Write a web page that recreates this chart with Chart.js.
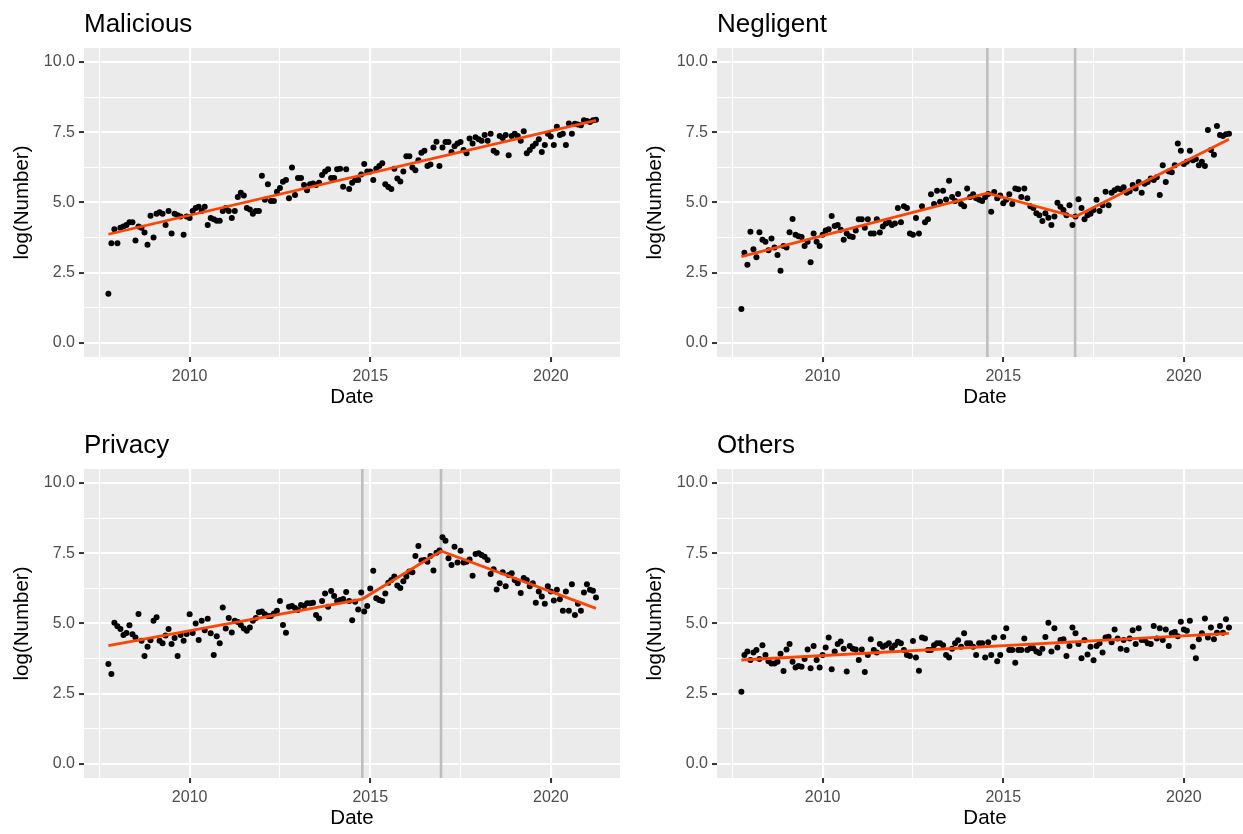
<!DOCTYPE html>
<html><head><meta charset="utf-8">
<script src="https://cdn.jsdelivr.net/npm/chart.js@4.4.0/dist/chart.umd.min.js"></script>
<style>
html,body{margin:0;padding:0;background:#fff;overflow:hidden;width:1243px;height:834px;position:relative;}
canvas{position:absolute;}
</style></head><body>
<canvas id="c1" width="633" height="417" style="left:0px;top:0px"></canvas>
<canvas id="c2" width="633" height="417" style="left:633px;top:0px"></canvas>
<canvas id="c3" width="633" height="417" style="left:0px;top:421px"></canvas>
<canvas id="c4" width="633" height="417" style="left:633px;top:421px"></canvas>
<script>
// Monthly observations, Oct 2007 .. Apr 2021
const startYear = 2007, startMonth = 10, nMonths = 163;
const dates = [];
for (let k = 0; k < nMonths; k++) dates.push(startYear + (startMonth - 1 + k) / 12);

const titles = ['Malicious', 'Negligent', 'Privacy', 'Others'];
const xTickLabels = ['2010', '2015', '2020'];
const yTickLabels = ['0.0', '2.5', '5.0', '7.5', '10.0'];

const malicious = [
 1.75, 3.55, 4.05,
 3.55, 4.1, 4.15, 4.2, 4.3, 4.3, 3.65, 4.15, 4.1, 3.93, 3.5, 4.53,
 3.75, 4.6, 4.65, 4.6, 4.2, 4.7, 3.9, 4.6, 4.55, 4.5, 3.85, 4.5,
 4.45, 4.7, 4.8, 4.85, 4.7, 4.85, 4.2, 4.45, 4.4, 4.35, 4.35, 4.7,
 4.8, 4.7, 4.45, 4.7, 5.2, 5.35, 5.25, 4.8, 4.75, 4.6, 4.7, 4.7,
 5.95, 5.1, 5.65, 5.05, 5.05, 5.38, 5.52, 5.74, 5.8, 5.15, 6.25, 5.27,
 5.87, 5.87, 5.62, 5.44, 5.65, 5.68, 5.62, 5.7, 5.98, 6.1, 6.18, 5.87,
 5.87, 6.18, 6.2, 5.56, 6.18, 5.48, 5.7, 5.8, 5.8, 6.0, 6.37, 6.1,
 6.1, 5.8, 6.2, 6.3, 6.4, 5.65, 5.55, 5.48, 6.2, 5.85, 5.75, 6.1,
 6.65, 6.65, 6.25, 6.15, 6.5, 6.77, 6.84, 6.3, 6.35, 6.96, 7.16, 6.3,
 6.96, 7.15, 7.15, 6.8, 7.0, 7.1, 7.15, 6.87, 6.75, 7.28, 7.1, 7.32,
 7.25, 7.2, 7.4, 7.2, 7.45, 6.84, 6.77, 7.37, 7.3, 7.4, 6.68, 7.37,
 7.45, 7.37, 7.2, 7.54, 6.75, 6.87, 7.0, 7.1, 7.25, 6.8, 7.05, 7.45,
 7.35, 7.05, 7.7, 7.4, 7.45, 7.05, 7.81, 7.45, 7.8, 7.78, 7.75, 7.93,
 7.9, 7.87, 7.93, 7.95
];
const negligent = [
 1.21, 3.21, 2.78,
 3.96, 3.34, 3.05, 3.94, 3.67, 3.6, 3.3, 3.72, 3.4, 3.13, 2.57, 3.45,
 3.4, 3.94, 4.41, 3.85, 3.8, 3.77, 3.45, 3.6, 2.87, 3.9, 3.6, 3.45,
 3.85, 4.0, 4.05, 4.52, 4.16, 4.2, 4.03, 3.67, 3.9, 3.8, 3.77, 4.0,
 4.4, 4.4, 4.1, 4.4, 3.9, 3.9, 4.4, 3.93, 4.15, 4.25, 4.3, 4.2,
 4.25, 4.8, 4.3, 4.87, 4.8, 3.9, 3.85, 4.45, 3.9, 4.87, 4.3, 4.4,
 5.29, 4.95, 5.42, 5.03, 5.42, 5.11, 5.77, 5.2, 5.05, 5.3, 4.95, 4.87,
 5.5, 5.2, 5.29, 5.15, 5.1, 5.05, 5.2, 5.3, 4.67, 5.37, 5.15, 5.25,
 4.97, 5.1, 5.29, 4.95, 5.5, 5.47, 5.2, 5.5, 5.15, 4.87, 4.8, 4.62,
 4.55, 4.34, 4.62, 4.46, 4.2, 4.5, 4.99, 4.85, 4.73, 4.55, 4.9, 4.2,
 4.5, 5.12, 4.8, 4.4, 4.55, 4.6, 4.73, 5.1, 4.7, 4.9, 5.38, 4.9,
 5.35, 5.44, 5.5, 5.47, 5.54, 5.35, 5.4, 5.62, 5.5, 5.73, 5.35, 5.67,
 5.73, 5.85, 5.8, 5.9, 5.27, 6.33, 5.73, 6.1, 6.08, 6.33, 7.1, 6.84,
 6.37, 6.45, 6.84, 6.5, 6.55, 6.33, 6.45, 6.3, 7.58, 6.87, 6.7, 7.72,
 7.4, 7.37, 7.43, 7.45
];
const privacy = [
 3.56, 3.2, 5.03,
 4.9, 4.8, 4.59, 4.66, 4.94, 4.62, 4.5, 5.34, 4.39, 3.84, 4.17, 4.4,
 5.1, 5.22, 4.39, 4.3, 4.57, 4.8, 4.27, 4.48, 3.84, 4.59, 4.39, 4.63,
 5.33, 4.66, 5.0, 4.41, 5.1, 4.76, 5.17, 4.65, 3.88, 4.55, 4.3, 5.57,
 4.82, 5.2, 4.68, 5.1, 5.05, 4.95, 4.82, 4.74, 4.86, 5.1, 5.2, 5.4,
 5.43, 5.33, 5.27, 5.27, 5.36, 5.45, 5.8, 4.95, 4.67, 5.6, 5.62, 5.55,
 5.48, 5.66, 5.62, 5.72, 5.72, 5.74, 5.3, 5.18, 5.8, 6.07, 5.6, 6.16,
 5.98, 5.8, 5.84, 5.87, 6.12, 5.8, 5.12, 5.77, 5.5, 6.1, 5.43, 5.62,
 6.25, 6.88, 5.9, 5.84, 5.8, 6.07, 6.45, 6.55, 6.67, 6.35, 6.26, 6.5,
 6.67, 6.85, 6.82, 7.4, 7.76, 7.24, 7.26, 7.2, 7.4, 6.89, 7.52, 7.6,
 8.07, 7.95, 7.32, 7.08, 7.73, 7.17, 7.59, 7.17, 7.2, 7.28, 6.7, 7.47,
 7.5, 7.44, 7.38, 7.26, 6.76, 6.93, 6.21, 6.43, 6.82, 6.33, 6.73, 6.79,
 6.55, 6.43, 6.09, 6.62, 6.55, 6.33, 6.43, 5.74, 6.14, 5.96, 5.7, 6.33,
 6.14, 5.82, 6.2, 5.86, 5.45, 6.14, 5.45, 6.4, 5.3, 5.7, 5.45, 6.1,
 6.4, 6.2, 6.17, 5.93
];
const others = [
 2.57, 3.88, 4.0,
 3.7, 3.97, 4.06, 3.74, 4.23, 3.88, 3.66, 3.58, 3.58, 3.64, 3.92, 3.31,
 4.07, 4.27, 3.64, 3.43, 3.49, 3.46, 3.74, 4.07, 3.41, 4.2, 3.7, 3.43,
 3.88, 4.15, 4.5, 3.37, 4.0, 4.27, 4.36, 4.1, 3.29, 4.2, 4.1, 4.07,
 3.7, 4.07, 3.27, 3.88, 4.44, 4.06, 3.97, 4.27, 4.17, 4.23, 4.3, 4.12,
 4.23, 4.35, 4.3, 4.06, 3.88, 3.84, 4.38, 3.79, 3.32, 4.5, 4.47, 4.06,
 4.06, 4.23, 4.3, 4.3, 4.23, 3.88, 3.79, 4.1, 4.3, 4.4, 4.17, 4.65,
 4.3, 4.3, 4.17, 3.88, 4.3, 4.3, 3.79, 4.33, 3.88, 4.5, 3.66, 3.88,
 4.52, 4.83, 4.06, 4.06, 3.6, 4.06, 4.06, 4.47, 4.06, 4.12, 4.12, 4.0,
 3.95, 4.1, 4.52, 5.03, 4.0, 4.83, 4.15, 4.41, 4.44, 3.84, 4.2, 4.86,
 4.65, 4.27, 3.76, 4.41, 3.9, 4.17, 3.69, 4.2, 4.3, 3.97, 4.5, 4.53,
 4.33, 4.79, 4.47, 4.1, 4.41, 4.06, 4.47, 4.76, 4.27, 4.83, 4.41, 4.41,
 4.3, 4.27, 4.91, 4.47, 4.83, 4.41, 4.79, 4.2, 4.65, 4.7, 4.55, 5.06,
 4.79, 4.74, 5.1, 4.17, 3.76, 4.44, 4.65, 5.18, 4.5, 4.86, 4.44, 4.67,
 4.91, 4.67, 5.15, 4.86
];

// Fitted segmented-regression lines: [date, value] knots
const maliciousFit = [[2007.75, 3.87], [2021.25, 7.92]];
const negligentFit = [[2007.75, 3.07], [2014.56, 5.33], [2016.99, 4.49], [2021.25, 7.25]];
const privacyFit   = [[2007.75, 4.21], [2014.78, 5.87], [2016.96, 7.58], [2021.25, 5.54]];
const othersFit    = [[2007.75, 3.70], [2021.25, 4.65]];

// Breakpoint dates (vertical reference lines)
const maliciousBreaks = [];
const negligentBreaks = [2014.56, 2016.99];
const privacyBreaks = [2014.78, 2016.96];
const othersBreaks = [];

const FONT = '"Liberation Sans", Arial, Helvetica, sans-serif';
const isMajor = (v, step) => Math.abs(v / step - Math.round(v / step)) < 1e-6;

const panelBg = {
  id: 'panelBg',
  beforeDraw(chart) {
    const { ctx, chartArea: a } = chart;
    ctx.save();
    ctx.fillStyle = '#EBEBEB';
    ctx.fillRect(a.left, a.top, a.right - a.left, a.bottom - a.top);
    ctx.restore();
  }
};

function makePanel(id, title, values, fit, breaks) {
  const points = values.map((v, i) => ({ x: dates[i], y: v }));
  const datasets = [
    { type: 'line', data: fit.map(p => ({ x: p[0], y: p[1] })), borderColor: '#FF4500',
      borderWidth: 2.8, pointRadius: 0, fill: false, tension: 0, order: 0 },
    { type: 'scatter', data: points, backgroundColor: '#000000', borderWidth: 0,
      pointRadius: 3, pointHoverRadius: 3, order: 1 }
  ];
  breaks.forEach(b => datasets.push({
    type: 'line', data: [{ x: b, y: -0.5 }, { x: b, y: 10.5 }], borderColor: '#BEBEBE',
    borderWidth: 2.6, pointRadius: 0, fill: false, order: 2
  }));
  const gridOpts = step => ({
    color: '#FFFFFF',
    lineWidth: c => (c.tick && isMajor(c.tick.value, step)) ? 2.1 : 1.05,
    tickColor: c => (c.tick && isMajor(c.tick.value, step)) ? '#333333' : 'rgba(0,0,0,0)',
    tickLength: 5,
    tickWidth: 2
  });
  new Chart(document.getElementById(id), {
    type: 'scatter',
    data: { datasets },
    plugins: [panelBg],
    options: {
      responsive: false,
      animation: false,
      devicePixelRatio: 1,
      layout: { padding: { left: 0, right: 13, top: 0, bottom: 0 } },
      plugins: {
        legend: { display: false },
        tooltip: { enabled: false },
        title: {
          display: true, text: title, align: 'start', fullSize: false, color: '#000000',
          font: { family: FONT, size: 26, weight: 'normal', lineHeight: 1.2 },
          padding: { top: 9.4, bottom: 7.4 }
        }
      },
      scales: {
        x: {
          type: 'linear', min: 2007.075, max: 2021.915,
          afterFit(s) { s.height = 60; },
          border: { display: false },
          grid: gridOpts(5),
          ticks: {
            stepSize: 2.5, includeBounds: false, autoSkip: false, maxRotation: 0, padding: 5,
            color: '#4D4D4D', font: { family: FONT, size: 16 },
            callback: v => {
              if (!isMajor(v, 5)) return '';
              const s = String(Math.round(v));
              return xTickLabels.includes(s) ? s : '';
            }
          },
          title: { display: true, text: 'Date', color: '#000000',
                   font: { family: FONT, size: 20.5, lineHeight: 1.2 }, padding: { top: 0, bottom: 7 } }
        },
        y: {
          type: 'linear', min: -0.5, max: 10.5,
          afterFit(s) { s.width = 84; },
          border: { display: false },
          grid: gridOpts(2.5),
          ticks: {
            stepSize: 1.25, includeBounds: false, autoSkip: false, padding: 4,
            color: '#4D4D4D', font: { family: FONT, size: 16 },
            callback: v => {
              if (!isMajor(v, 2.5)) return '';
              const s = v.toFixed(1);
              return yTickLabels.includes(s) ? s : '';
            }
          },
          title: { display: true, text: 'log(Number)', color: '#000000',
                   font: { family: FONT, size: 20.5, lineHeight: 1.2 }, padding: { top: 9.7, bottom: 0 } }
        }
      }
    }
  });
}

makePanel('c1', titles[0], malicious, maliciousFit, maliciousBreaks);
makePanel('c2', titles[1], negligent, negligentFit, negligentBreaks);
makePanel('c3', titles[2], privacy, privacyFit, privacyBreaks);
makePanel('c4', titles[3], others, othersFit, othersBreaks);
</script>
</body></html>
